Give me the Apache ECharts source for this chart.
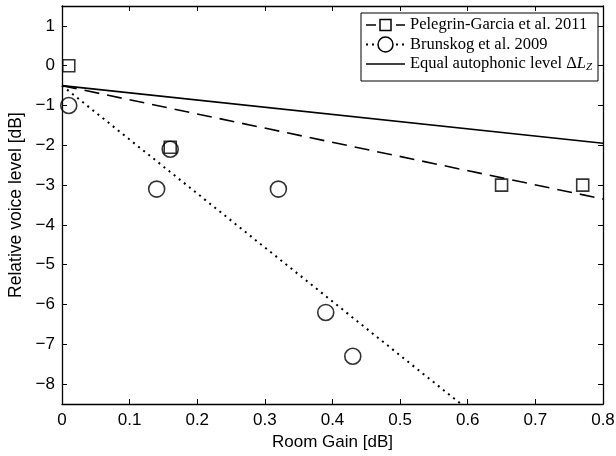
<!DOCTYPE html>
<html><head><meta charset="utf-8">
<script src="https://cdn.jsdelivr.net/npm/echarts@6/dist/echarts.min.js"></script>
<style>html,body{margin:0;padding:0;background:#fff}#c{width:616px;height:456px}</style>
</head><body><div id="c"></div>
<script>
var pelegrinX = [0.01, 0.16, 0.65, 0.77];
var pelegrinY = [0.0, -2.05, -3.0, -3.0];
var brunskogX = [0.01, 0.14, 0.16, 0.32, 0.39, 0.43];
var brunskogY = [-1.0, -3.1, -2.1, -3.1, -6.2, -7.3];
var pelegrinFitX = [0, 0.8];
var pelegrinFitY = [-0.5, -3.35];
var brunskogFitX = [0, 0.59];
var brunskogFitY = [-0.5, -8.5];
var equalFitX = [0, 0.8];
var equalFitY = [-0.5, -1.95];
var yTicks = [-8, -7, -6, -5, -4, -3, -2, -1, 0, 1];
var legendNames = ['Pelegrin-Garcia et al. 2011', 'Brunskog et al. 2009', 'Equal autophonic level '];

function zip(a, b) { return a.map(function (v, i) { return [v, b[i]]; }); }
var chart = echarts.init(document.getElementById('c'));
var sans = 'Liberation Sans';
var serif = 'Liberation Serif';
var axisLine = { show: true, onZero: false, lineStyle: { color: '#000', width: 1.3 } };
var tick = { show: true, inside: true, length: 5, lineStyle: { color: '#000', width: 1 } };
function fmtY(v) { return v < 0 ? '\u2212' + Math.abs(v) : String(v); }

var lx0 = 366, lx1 = 405, lxm = 385.5, ltx = 410;
var rows = [25, 44.5, 64];
var lf = '16.5px ' + serif;
var graphic = [
  { type: 'rect', shape: { x: 361, y: 13, width: 237, height: 68 }, style: { fill: '#fff', stroke: '#000', lineWidth: 1 }, z: 100 },
  { type: 'line', shape: { x1: lx0, y1: rows[0], x2: lx1, y2: rows[0] }, style: { stroke: '#000', lineWidth: 1.5, lineDash: [10, 5] }, z: 101 },
  { type: 'rect', shape: { x: lxm - 5.5, y: rows[0] - 5.5, width: 11, height: 11 }, style: { fill: '#fff', stroke: '#000', lineWidth: 1.5 }, z: 102 },
  { type: 'line', shape: { x1: lx0, y1: rows[1], x2: lx1, y2: rows[1] }, style: { stroke: '#000', lineWidth: 1.8, lineDash: [2, 4] }, z: 101 },
  { type: 'circle', shape: { cx: lxm, cy: rows[1], r: 7.5 }, style: { fill: '#fff', stroke: '#000', lineWidth: 1.5 }, z: 102 },
  { type: 'line', shape: { x1: lx0, y1: rows[2], x2: lx1, y2: rows[2] }, style: { stroke: '#000', lineWidth: 1.5 }, z: 101 },
  { type: 'text', x: ltx, y: rows[0], style: { text: legendNames[0], font: lf, fill: '#000', verticalAlign: 'middle' }, z: 102 },
  { type: 'text', x: ltx, y: rows[1], style: { text: legendNames[1], font: lf, fill: '#000', verticalAlign: 'middle' }, z: 102 },
  { type: 'text', x: ltx, y: rows[2], style: {
      text: legendNames[2] + '{n|\u0394}{i|L}{s|Z}', font: lf, fill: '#000', verticalAlign: 'middle',
      rich: { n: { font: lf }, i: { font: 'italic ' + lf }, s: { font: 'italic 11px ' + serif, verticalAlign: 'bottom', padding: [6, 0, 0, 0] } }
    }, z: 102 }
];

chart.setOption({
  animation: false,
  backgroundColor: '#fff',
  grid: { left: 62, right: 13, top: 6, bottom: 52, containLabel: false, outerBoundsMode: 'none' },
  xAxis: [
    { type: 'value', min: 0, max: 0.8, interval: 0.1, position: 'bottom',
      name: 'Room Gain [dB]', nameLocation: 'middle', nameGap: 30,
      nameTextStyle: { fontFamily: sans, fontSize: 17, color: '#000' },
      axisLine: axisLine, axisTick: tick, splitLine: { show: false },
      axisLabel: { fontFamily: sans, fontSize: 17, color: '#000', margin: 8 } },
    { type: 'value', min: 0, max: 0.8, interval: 0.1, position: 'top',
      axisLine: axisLine, axisTick: tick, splitLine: { show: false }, axisLabel: { show: false } }
  ],
  yAxis: [
    { type: 'value', min: -8.5, max: 1.5, position: 'left',
      name: 'Relative voice level [dB]', nameLocation: 'middle', nameGap: 35,
      nameTextStyle: { fontFamily: sans, fontSize: 17.5, color: '#000' },
      axisLine: axisLine, splitLine: { show: false },
      axisTick: Object.assign({ customValues: yTicks }, tick),
      axisLabel: { customValues: yTicks, formatter: fmtY, fontFamily: sans, fontSize: 17, color: '#000', margin: 7 } },
    { type: 'value', min: -8.5, max: 1.5, position: 'right',
      axisLine: axisLine, splitLine: { show: false },
      axisTick: Object.assign({ customValues: yTicks }, tick),
      axisLabel: { show: false } }
  ],
  series: [
    { type: 'line', data: zip(equalFitX, equalFitY), symbol: 'none', lineStyle: { color: '#000', width: 1.6 }, silent: true },
    { type: 'line', data: zip(pelegrinFitX, pelegrinFitY), symbol: 'none', lineStyle: { color: '#000', width: 1.6, type: [15, 8] }, silent: true },
    { type: 'line', data: zip(brunskogFitX, brunskogFitY), symbol: 'none', lineStyle: { color: '#000', width: 2, type: [2, 4.5] }, silent: true },
    { type: 'scatter', data: zip(pelegrinX, pelegrinY), symbol: 'rect', symbolSize: 12,
      itemStyle: { color: 'rgba(255,255,255,0)', borderColor: '#000', borderWidth: 1.6 }, z: 5 },
    { type: 'scatter', data: zip(brunskogX, brunskogY), symbol: 'circle', symbolSize: 16,
      itemStyle: { color: 'rgba(255,255,255,0)', borderColor: '#000', borderWidth: 1.6 }, z: 5 }
  ],
  graphic: graphic
});
</script></body></html>
